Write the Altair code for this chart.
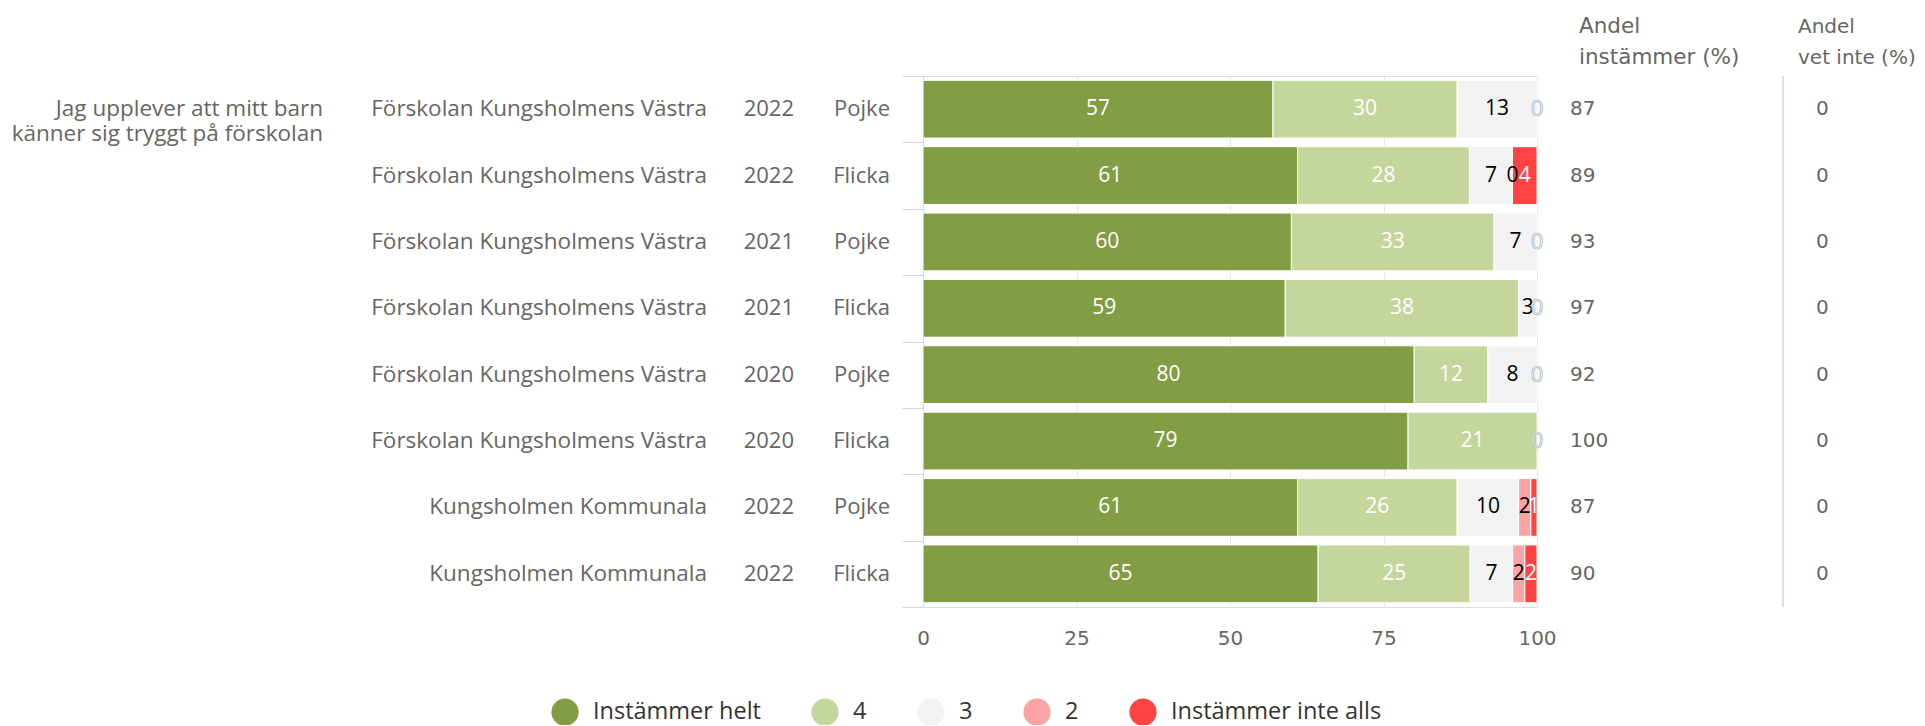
import altair as alt
import pandas as pd

schools = ["Förskolan Kungsholmens Västra"] * 6 + ["Kungsholmen Kommunala"] * 2
years = ["2022", "2022", "2021", "2021", "2020", "2020", "2022", "2022"]
genders = ["Pojke", "Flicka", "Pojke", "Flicka", "Pojke", "Flicka", "Pojke", "Flicka"]
categories = ["Instämmer helt", "4", "3", "2", "Instämmer inte alls"]
colors = ["#829d44", "#c5d69c", "#f2f2f2", "#fca3a3", "#ff4343"]
label_colors = ["white", "white", "black", "black", "white"]
v_helt = [57, 61, 60, 59, 80, 79, 61, 65]
v_4 = [30, 28, 33, 38, 12, 21, 26, 25]
v_3 = [13, 7, 7, 3, 8, 0, 10, 7]
v_2 = [0, 0, 0, 0, 0, 0, 2, 2]
v_inte = [0, 4, 0, 0, 0, 0, 1, 2]
andel_instammer = [87, 89, 93, 97, 92, 100, 87, 90]
andel_vet_inte = [0, 0, 0, 0, 0, 0, 0, 0]
question = ["Jag upplever att mitt barn", "känner sig tryggt på förskolan"]
header1 = ["Andel", "instämmer (%)"]
header2 = ["Andel", "vet inte (%)"]
x_ticks = [0, 25, 50, 75, 100]

FONT = "Open Sans"
WIDE = "DejaVu Sans"
GRAY = "#666666"
row_keys = [f"r{i}" for i in range(len(schools))]

series = [v_helt, v_4, v_3, v_2, v_inte]
long_rows = []
for ci, (cat, vals) in enumerate(zip(categories, series)):
    for ri, v in enumerate(vals):
        long_rows.append({"row": row_keys[ri], "ci": ci, "cat": cat, "value": v,
                          "lc": label_colors[ci]})
long_df = pd.DataFrame(long_rows)

row_df = pd.DataFrame({
    "row": row_keys, "school": schools, "year": years, "gender": genders,
    "inst": andel_instammer, "vet": andel_vet_inte,
})

y_enc = alt.Y("row:N", sort=row_keys, title=None,
              scale=alt.Scale(paddingInner=0, paddingOuter=0))

bars = alt.Chart(long_df).transform_filter("datum.value > 0").mark_bar(
    height={"band": 0.87}, stroke="white", strokeWidth=1
).encode(
    y=alt.Y("row:N", sort=row_keys, title=None,
            scale=alt.Scale(paddingInner=0, paddingOuter=0),
            axis=alt.Axis(labels=False, tickBand="extent", domainColor="#ccd6eb",
                          tickColor="#ccd6eb", tickSize=21, grid=False)),
    x=alt.X("value:Q", stack="normalize", title=None,
            scale=alt.Scale(domain=[0, 1], nice=False),
            axis=alt.Axis(values=[t / 100 for t in x_ticks],
                          labelExpr="round(datum.value * 100)",
                          grid=True, gridColor="#e6e6e6", ticks=False, domain=False,
                          labelPadding=21, labelFontSize=20, labelColor=GRAY,
                          labelFlush=False, labelFont=WIDE)),
    color=alt.Color("cat:N", scale=alt.Scale(domain=categories, range=colors),
                    legend=alt.Legend(title=None, orient="none", direction="horizontal",
                                      legendX=-372, legendY=622,
                                      symbolType="circle", symbolSize=740,
                                      symbolStrokeWidth=0, labelFontSize=23.5,
                                      labelFont=FONT, labelColor="#333333",
                                      labelOffset=14, columnPadding=50,
                                      labelLimit=400)),
    order=alt.Order("ci:Q", sort="ascending"),
)

stacked = alt.Chart(long_df).transform_stack(
    stack="value", groupby=["row"], as_=["v0", "v1"], offset="normalize",
    sort=[alt.SortField("ci", order="ascending")]
).transform_calculate(mid="(datum.v0 + datum.v1) / 2")

seg_labels = stacked.transform_filter(
    "datum.value > 0 || (datum.ci < 4 && datum.v1 < 0.999)"
).mark_text(fontSize=21, font=FONT, baseline="middle", align="center").encode(
    x=alt.X("mid:Q"), y=y_enc, text=alt.Text("value:Q"),
    fill=alt.Fill("lc:N", scale=None),
)

zero_labels = stacked.transform_filter(
    "datum.value == 0 && datum.ci == 4"
).mark_text(fontSize=22, font=FONT, baseline="middle", align="center",
            fill="white", stroke="#a8a8a8", strokeWidth=0.7).encode(
    x=alt.X("mid:Q"), y=y_enc, text=alt.Text("value:Q"),
)

def row_text(field, xpos, align, font=FONT, size=22.5):
    return alt.Chart(row_df).mark_text(
        fontSize=size, font=font, color=GRAY, align=align, baseline="middle"
    ).encode(x=alt.value(xpos), y=y_enc, text=alt.Text(field))

school_t = row_text("school:N", -216, "right")
year_t = row_text("year:N", -129, "right", size=22)
gender_t = row_text("gender:N", -33, "right", size=22)
inst_t = row_text("inst:Q", 647, "left", WIDE, 20)
vet_t = row_text("vet:Q", 893, "left", WIDE, 20)

q_df = pd.DataFrame({"row": [row_keys[0]], "q": [question]})
question_t = alt.Chart(q_df).mark_text(
    fontSize=22.5, font=FONT, color=GRAY, align="right", baseline="middle", lineHeight=24.5
).encode(x=alt.value(-600), y=y_enc, text="q")

h_df = pd.DataFrame({"h": [header1, header2], "hx": [656, 875], "hs": [21.5, 20]})
header_t = alt.Chart(h_df).mark_text(
    font=WIDE, color=GRAY, align="left", baseline="alphabetic", lineHeight=31
).encode(x=alt.X("hx:Q", scale=None), y=alt.value(-43), text="h",
         size=alt.Size("hs:Q", scale=None, legend=None))

sep = alt.Chart(pd.DataFrame({"a": [0]})).mark_rule(color="#ccd6eb", strokeWidth=1.5).encode(
    x=alt.value(860), y=alt.value(0), y2=alt.value(531)
)

chart = alt.layer(
    bars, seg_labels, zero_labels, school_t, year_t, gender_t, inst_t, vet_t,
    question_t, header_t, sep
).properties(
    width=614, height=531,
    padding={"left": 915, "top": 68, "right": 380, "bottom": 118},
    autosize=alt.AutoSizeParams(type="none"),
).configure_view(stroke=None).configure(font=FONT)

chart.save("out.html", embed_options={"renderer": "svg", "actions": False})
